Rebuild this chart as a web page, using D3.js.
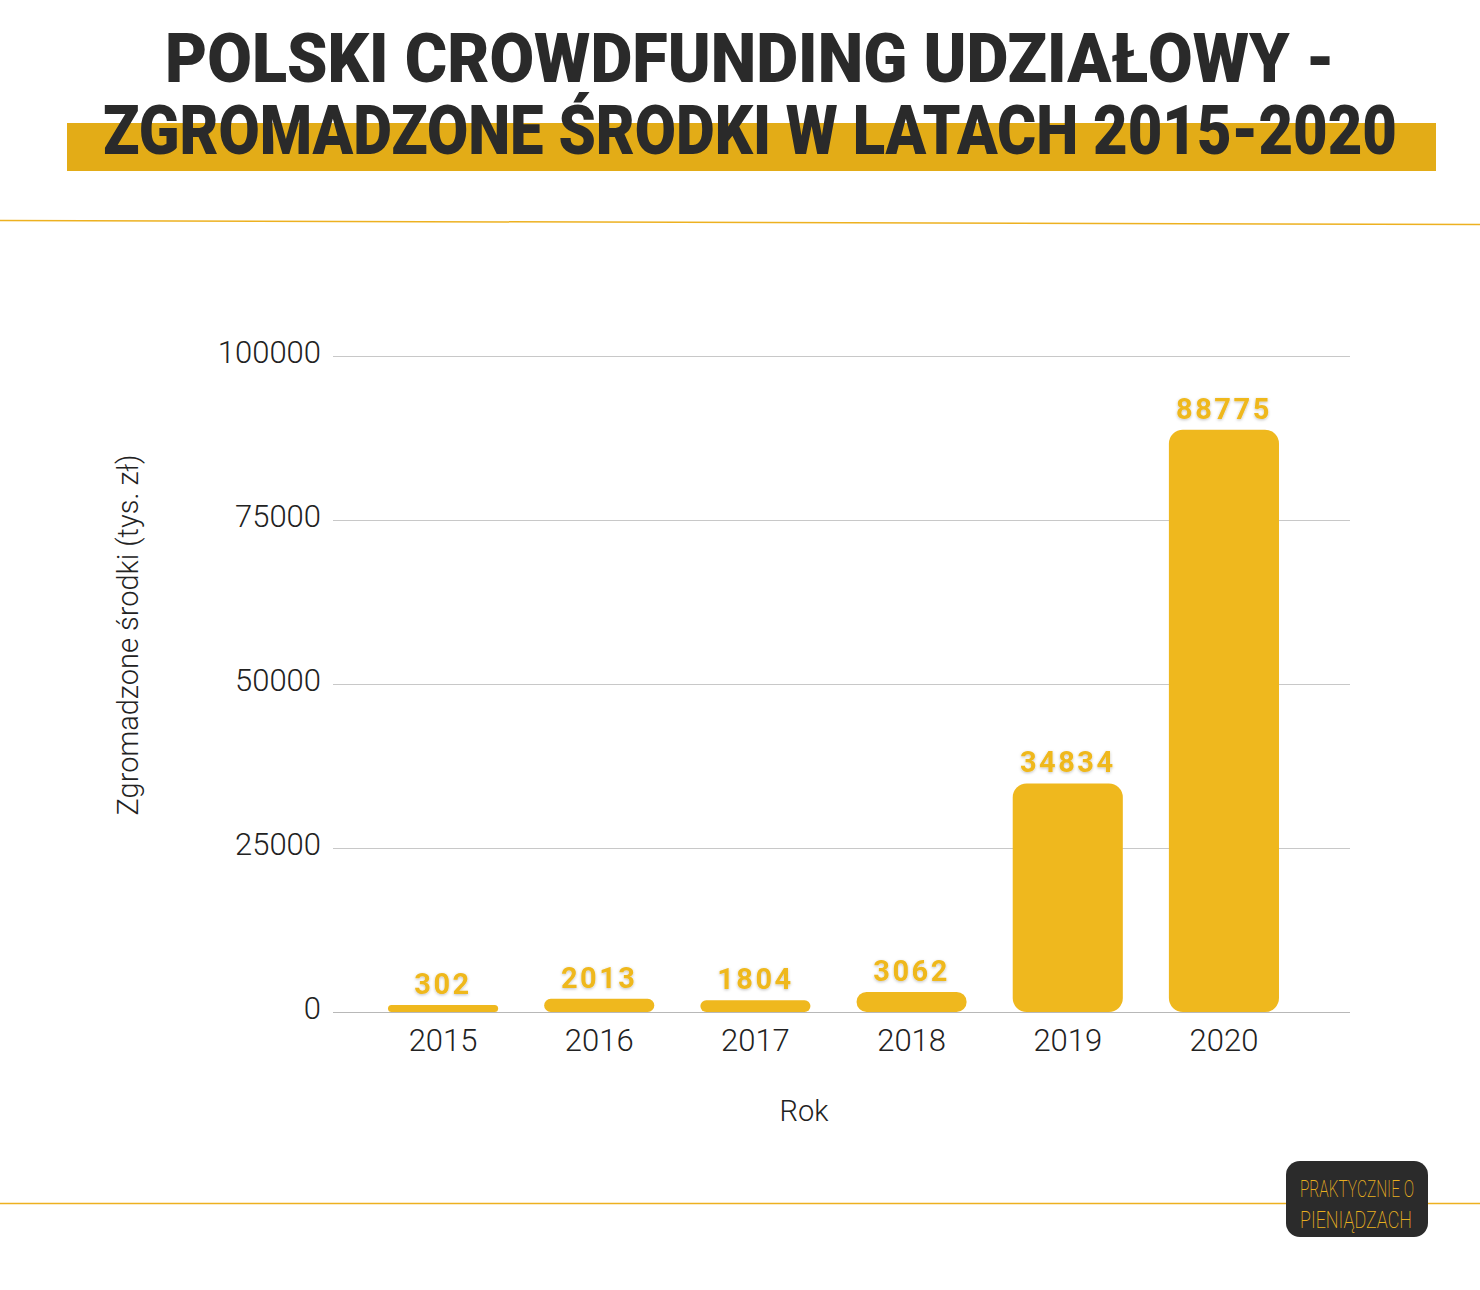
<!DOCTYPE html>
<html><head><meta charset="utf-8">
<script src="https://cdn.jsdelivr.net/npm/d3@7"></script>
<style>html,body{margin:0;padding:0;background:#fff;}</style>
</head><body>
<script>
const years = ["2015","2016","2017","2018","2019","2020"];
const values = [302, 2013, 1804, 3062, 34834, 88775];
const yTicks = [0, 25000, 50000, 75000, 100000];
const titleLines = ["POLSKI CROWDFUNDING UDZIAŁOWY -", "ZGROMADZONE ŚRODKI W LATACH 2015-2020"];
const yTitle = "Zgromadzone środki (tys. zł)";
const xTitle = "Rok";
const logoLines = ["PRAKTYCZNIE O", "PIENIĄDZACH"];

const W = 1480, H = 1290;
const gold = "#EFB81E", dark = "#2a2a2a";
const svg = d3.select("body").append("svg").attr("width", W).attr("height", H);
const defs = svg.append("defs");
const f = defs.append("filter").attr("id","sh").attr("x","-20%").attr("y","-30%").attr("width","140%").attr("height","160%");
f.append("feDropShadow").attr("dx",0).attr("dy",1).attr("stdDeviation",1.5).attr("flood-color","#000").attr("flood-opacity",0.25);

// Title
svg.append("rect").attr("x",67).attr("y",123).attr("width",1369).attr("height",48).attr("fill","#E3AC17");
svg.append("text").text(titleLines[0]).attr("x",750).attr("y",82).attr("text-anchor","middle")
  .attr("font-family","Roboto").attr("font-weight",900).attr("font-size",68).attr("fill",dark)
  .attr("textLength",1170).attr("lengthAdjust","spacingAndGlyphs");
svg.append("text").text(titleLines[1]).attr("x",750).attr("y",154).attr("text-anchor","middle")
  .attr("font-family","Roboto").attr("font-weight",900).attr("font-size",68).attr("fill",dark)
  .attr("textLength",1294).attr("lengthAdjust","spacingAndGlyphs");

// divider lines
svg.append("line").attr("x1",0).attr("x2",W).attr("y1",220.5).attr("y2",224.5).attr("stroke","#EDB120").attr("stroke-width",1.5);
svg.append("line").attr("x1",0).attr("x2",W).attr("y1",1203.5).attr("y2",1203.5).attr("stroke","#EDB120").attr("stroke-width",1.5);

// scales
const y = d3.scaleLinear().domain([0,100000]).range([1012,356]);
const x = d3.scaleBand().domain(years).range([388,1279]).paddingInner(0.295).paddingOuter(0);

// grid
const g = svg.append("g");
g.selectAll("line.grid").data(yTicks).enter().append("line")
  .attr("x1",333).attr("x2",1350)
  .attr("y1",d=>Math.round(y(d))+0.5).attr("y2",d=>Math.round(y(d))+0.5)
  .attr("stroke",d=>d===0?"#b8b8b8":"#c8c8c8").attr("stroke-width",1);

// y axis labels
const yAxis = d3.axisLeft(y).tickValues(yTicks).tickSize(0).tickPadding(0).tickFormat(d3.format("d"));
const ya = svg.append("g").attr("transform","translate(321,0)").call(yAxis);
ya.select(".domain").remove();
ya.selectAll("text").attr("font-family","Roboto").attr("font-weight",300).attr("font-size",31).attr("fill","#222").attr("dy","0.22em");

// x axis labels
const xAxis = d3.axisBottom(x).tickSize(0).tickPadding(0);
const xa = svg.append("g").attr("transform","translate(0,1029)").call(xAxis);
xa.select(".domain").remove();
xa.selectAll("text").attr("font-family","Roboto").attr("font-weight",300).attr("font-size",31).attr("fill","#222").attr("dy","0.71em");

// bars
const data = years.map((yr,i)=>({yr, v: values[i]}));
const barH = d => Math.max(y(0)-y(d.v), 7);
svg.selectAll("rect.bar").data(data).enter().append("rect")
  .attr("x",d=>x(d.yr)).attr("width",x.bandwidth())
  .attr("y",d=>y(0)-barH(d)).attr("height",d=>barH(d))
  .attr("rx",d=>Math.min(14, barH(d)/2)).attr("fill",gold);

// value labels
svg.selectAll("text.val").data(data).enter().append("text")
  .attr("x",d=>x(d.yr)+x.bandwidth()/2).attr("y",d=>y(0)-barH(d)-11)
  .attr("text-anchor","middle").attr("font-family","Roboto").attr("font-weight",700)
  .attr("font-size",29).attr("letter-spacing",2.5).attr("fill",gold).attr("filter","url(#sh)")
  .text(d=>d.v);

// axis titles
svg.append("text").text(yTitle).attr("transform","translate(138,635) rotate(-90)").attr("text-anchor","middle")
  .attr("font-family","Roboto").attr("font-weight",300).attr("font-size",29).attr("fill","#222");
svg.append("text").text(xTitle).attr("x",804).attr("y",1121).attr("text-anchor","middle")
  .attr("font-family","Roboto").attr("font-weight",300).attr("font-size",29).attr("fill","#222");

// logo
svg.append("rect").attr("x",1286).attr("y",1161).attr("width",142).attr("height",76).attr("rx",14).attr("fill","#2b2b2b");
svg.append("text").text(logoLines[0]).attr("x",1357).attr("y",1197).attr("text-anchor","middle")
  .attr("font-family","Roboto").attr("font-weight",200).attr("font-size",23).attr("fill","#E8B020")
  .attr("textLength",114).attr("lengthAdjust","spacingAndGlyphs");
svg.append("text").text(logoLines[1]).attr("x",1356).attr("y",1228).attr("text-anchor","middle")
  .attr("font-family","Roboto").attr("font-weight",200).attr("font-size",23).attr("fill","#E8B020")
  .attr("textLength",112).attr("lengthAdjust","spacingAndGlyphs");
</script>
</body></html>
